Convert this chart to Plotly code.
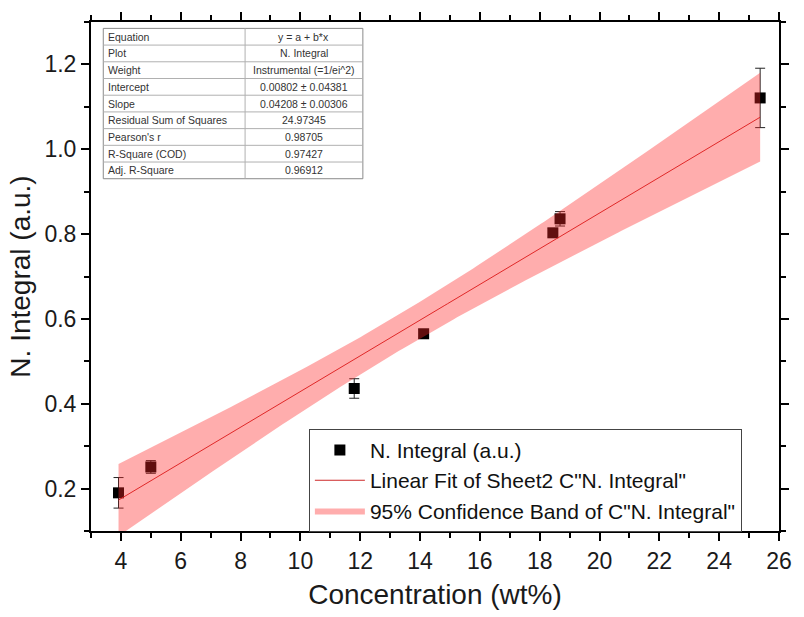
import numpy as np
import plotly.graph_objects as go

# Measured data: concentration (wt%) vs normalised integral, with instrumental errors
concentration = [3.92, 5.00, 11.80, 14.12, 18.44, 18.68, 25.37]
n_integral = [0.190, 0.251, 0.436, 0.565, 0.803, 0.836, 1.121]
n_integral_err = [0.036, 0.015, 0.023, 0.010, 0.010, 0.017, 0.070]

# Weighted linear fit results (y = a + b*x)
fit_labels = ["Equation", "Plot", "Weight", "Intercept", "Slope",
              "Residual Sum of Squares", "Pearson's r", "R-Square (COD)", "Adj. R-Square"]
fit_values = ["y = a + b*x", "N. Integral", "Instrumental (=1/ei^2)",
              "0.00802 ± 0.04381", "0.04208 ± 0.00306", "24.97345",
              "0.98705", "0.97427", "0.96912"]
intercept, intercept_se = 0.00802, 0.04381
slope, slope_se = 0.04208, 0.00306
cov_ab = -1.24e-4          # covariance of intercept and slope
t_crit = 2.5706            # t(0.975, df = 5)

FONT = "Liberation Sans, Arial, sans-serif"

# Fit line and 95% confidence band across the data range
xs = np.linspace(min(concentration), max(concentration), 200)
y_fit = intercept + slope * xs
half = t_crit * np.sqrt(intercept_se**2 + (xs * slope_se)**2 + 2 * xs * cov_ab)
band_x = np.concatenate([xs, xs[::-1]])
band_y = np.concatenate([y_fit + half, (y_fit - half)[::-1]])

fig = go.Figure()
fig.add_trace(go.Scatter(
    x=concentration, y=n_integral, mode="markers", name="N. Integral (a.u.)",
    marker=dict(symbol="square", size=11, color="black"),
    error_y=dict(type="data", array=n_integral_err, color="#222", thickness=1, width=5),
))
fig.add_trace(go.Scatter(
    x=xs, y=y_fit, mode="lines", name="Linear Fit of Sheet2 C\"N. Integral\"",
    line=dict(color="rgb(205,40,40)", width=1),
))
fig.add_trace(go.Scatter(
    x=band_x, y=band_y, mode="lines", fill="toself", name="95% Confidence Band of C\"N. Integral\"",
    fillcolor="rgba(255,40,40,0.38)", line=dict(width=0), hoverinfo="skip",
))

# Plot-area geometry in pixels (figure 804 x 617)
L, R, T, B = 91, 792, 17, 535


def px_x(p):
    return (p - L) / (R - L)


def px_y(p):
    return (B - p) / (B - T)


# Fit-results table drawn in the upper-left corner
tab_l, tab_r, tab_mid, tab_t, row_h = 103.5, 368, 248, 23.5, 17.0
tab_b = tab_t + row_h * len(fit_labels)
shapes = [dict(type="rect", xref="paper", yref="paper",
               x0=px_x(tab_l), x1=px_x(tab_r), y0=px_y(tab_b), y1=px_y(tab_t),
               line=dict(color="#8a8a8a", width=1), fillcolor="white", layer="above")]
shapes.append(dict(type="line", xref="paper", yref="paper",
                   x0=px_x(tab_mid), x1=px_x(tab_mid), y0=px_y(tab_b), y1=px_y(tab_t),
                   line=dict(color="#b0b0b0", width=1), layer="above"))
annotations = []
for i, (lab, val) in enumerate(zip(fit_labels, fit_values)):
    top = tab_t + i * row_h
    if i > 0:
        shapes.append(dict(type="line", xref="paper", yref="paper",
                           x0=px_x(tab_l), x1=px_x(tab_r), y0=px_y(top), y1=px_y(top),
                           line=dict(color="#b0b0b0", width=1), layer="above"))
    cy = px_y(top + row_h / 2)
    annotations.append(dict(xref="paper", yref="paper", x=px_x(tab_l + 3), y=cy,
                            xanchor="left", yanchor="middle", text=lab, showarrow=False,
                            font=dict(family=FONT, size=10.5, color="#333")))
    annotations.append(dict(xref="paper", yref="paper", x=px_x((tab_mid + tab_r) / 2), y=cy,
                            xanchor="center", yanchor="middle", text=val, showarrow=False,
                            font=dict(family=FONT, size=10.5, color="#333")))

axis_common = dict(
    showline=True, linecolor="black", linewidth=2, mirror="allticks",
    ticks="outside", ticklen=8, tickwidth=1.5, tickcolor="black",
    showgrid=False, zeroline=False,
    tickfont=dict(family=FONT, size=23, color="#1a1a1a"),
)

fig.update_layout(
    width=804, height=617,
    margin=dict(l=L, r=804 - R, t=T, b=617 - B),
    paper_bgcolor="white", plot_bgcolor="white",
    font=dict(family=FONT, color="#1a1a1a"),
    xaxis=dict(range=[3, 26], dtick=2, tick0=4,
               minor=dict(dtick=1, ticklen=5, tickwidth=1.5, tickcolor="black", ticks="outside"),
               title=dict(text="Concentration (wt%)", font=dict(family=FONT, size=28, color="#1a1a1a"),
                          standoff=12),
               **axis_common),
    yaxis=dict(range=[0.1, 1.3], dtick=0.2, tick0=0.2, tickformat=".1f",
               minor=dict(dtick=0.1, ticklen=5, tickwidth=1.5, tickcolor="black", ticks="outside"),
               title=dict(text="N. Integral (a.u.)", font=dict(family=FONT, size=28, color="#1a1a1a"),
                          standoff=6),
               **axis_common),
    legend=dict(x=px_x(313), y=px_y(431), xanchor="left", yanchor="top",
                bgcolor="white", bordercolor="#444", borderwidth=1,
                font=dict(family=FONT, size=21, color="#111"),
                itemwidth=50, tracegroupgap=0),
    shapes=shapes,
    annotations=annotations,
    showlegend=True,
)

fig.write_html("out.html")
